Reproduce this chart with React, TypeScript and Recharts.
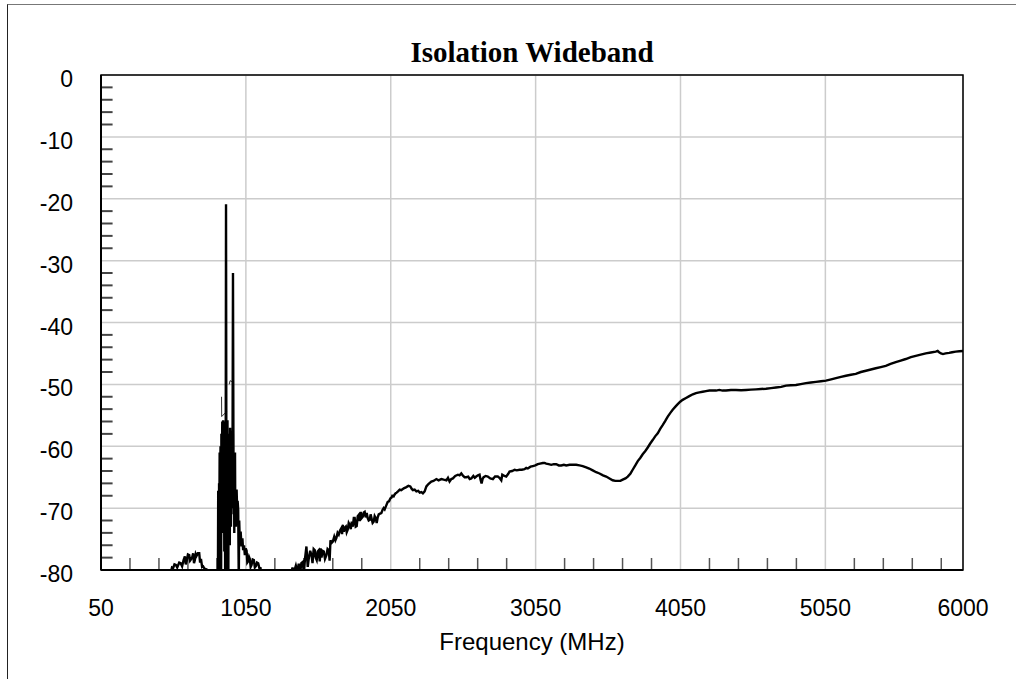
import { LineChart, Line, XAxis, YAxis, CartesianGrid, ReferenceLine, ReferenceArea } from 'recharts'

// trace: frequency (MHz) / isolation (dB); points below -80 are clipped by the axis
const freqMHz = [
  50, 200, 350, 480, 530, 540, 548, 557, 567, 576, 590, 600, 610, 620, 629, 635, 641, 650, 659, 665,
  671, 680, 686, 692, 698, 704, 710, 719, 728, 734, 740, 748, 755, 765, 779, 790, 810, 830, 850,
  857, 859, 861, 863, 865, 867, 869, 871, 873, 875, 877, 879, 881, 883, 885, 887, 889, 891, 893, 895,
  897, 899, 901, 903, 905, 907, 909, 911, 913, 915, 917, 919, 921, 923, 925, 927, 929, 931, 933, 935,
  937, 939, 941, 943, 945, 947, 949, 951, 953, 955, 958, 961, 964, 966, 968, 970, 972, 975, 977, 979,
  981, 983, 986, 990, 993, 997, 1001, 1004, 1008, 1014, 1020, 1026, 1031, 1037, 1043, 1049,
  1055, 1060, 1066, 1072, 1077, 1083, 1089, 1097, 1105, 1112, 1119, 1127, 1135, 1143, 1151, 1160,
  1200, 1260, 1320, 1360,
  1372, 1380, 1395, 1405, 1415, 1425, 1433, 1443, 1450, 1458, 1468, 1477, 1485, 1494, 1503, 1510,
  1518, 1526, 1532, 1539, 1546, 1553, 1560, 1566, 1572, 1580, 1588, 1596, 1606, 1614, 1622, 1628,
  1634, 1642, 1650, 1660, 1668, 1675, 1683, 1691, 1700, 1710, 1714, 1719, 1726, 1732, 1740, 1746,
  1753, 1760, 1767, 1774, 1781, 1788, 1795, 1801, 1808, 1815, 1822, 1829, 1836, 1843, 1850, 1857,
  1864, 1870, 1877, 1884, 1891, 1898, 1905, 1911, 1917, 1925, 1932, 1939, 1946, 1953, 1960, 1967,
  1976, 1985, 1993, 2001, 2008, 2015, 2022, 2029, 2038, 2048, 2055, 2061, 2070, 2077, 2084, 2091,
  2100, 2112, 2123, 2140, 2158, 2172, 2185, 2195, 2203, 2215, 2227, 2240, 2250, 2261, 2272, 2284,
  2296, 2310, 2330, 2345, 2365, 2380, 2399, 2415, 2434, 2445, 2456, 2468, 2479, 2495, 2514, 2525,
  2537, 2550, 2560, 2572, 2585, 2595, 2606, 2620, 2630, 2640, 2652, 2663, 2670, 2677, 2684, 2691,
  2705, 2720, 2737, 2755, 2770, 2789, 2800, 2813, 2820, 2835, 2847, 2860, 2870, 2888, 2905, 2920,
  2939, 2955, 2973, 2985, 2996, 3015, 3031, 3048, 3065, 3080, 3100, 3112, 3123, 3140, 3158, 3175,
  3192, 3210, 3227, 3245, 3261, 3285, 3307, 3330, 3353, 3375, 3399, 3420, 3444, 3468, 3491, 3515,
  3537, 3560, 3582, 3600, 3617, 3635, 3651, 3670, 3686, 3705, 3720, 3738, 3755, 3772, 3789, 3806,
  3824, 3840, 3858, 3875, 3893, 3910, 3927, 3945, 3962, 3980, 3996, 4015, 4031, 4048, 4065, 4088,
  4111, 4135, 4157, 4180, 4203, 4226, 4249, 4272, 4295, 4318, 4340, 4364, 4398, 4433, 4468, 4502,
  4536, 4571, 4605, 4640, 4675, 4709, 4745, 4778, 4812, 4847, 4880, 4916, 4950, 4985, 5020, 5054,
  5090, 5123, 5158, 5192, 5226, 5260, 5295, 5330, 5364, 5398, 5432, 5467, 5500, 5536, 5570, 5605,
  5640, 5674, 5708, 5743, 5778, 5812, 5825, 5835, 5848, 5862, 5880, 5904, 5925, 5950, 5975, 6000,
]

const isolationDb = [
  -86, -85, -84, -82, -80.6, -79.6, -79.7, -79.1, -79.2, -79.6, -78.8, -78.9, -79.4, -78.4, -77.8, -79.1, -78.6, -77.5, -77.6, -78.5,
  -78.3, -77.9, -77.3, -78.9, -78.4, -77.4, -77.7, -77.3, -77.3, -78.8, -78.2, -79.5, -79.4, -79.8, -79.9, -81, -83, -82.5, -81.5,
  -82, -67.2, -76, -82, -66, -72, -61, -75, -64, -60, -70, -82, -58, -68, -62, -56, -74, -60.5, -55.8, -70,
  -59, -57, -77, -61, -56, -82, -63, -58, -20.9, -56.5, -82, -64, -60, -55.8, -72, -63, -82, -58, -71, -62,
  -60.5, -76, -57, -68, -61, -73, -66, -59, -70, -57.5, -60, -32, -58, -71, -62, -74, -66, -61, -72, -67,
  -73, -68.5, -67, -70.5, -68.8, -70.3, -82, -72, -75.2, -73.8, -76.2, -74.9, -76.8, -76, -77.6, -76.5,
  -76.9, -78.8, -78.6, -77.9, -78.2, -79.5, -79.2, -78.3, -78.4, -79.6, -79.4, -78.8, -78.9, -79.7, -79.7, -81,
  -83, -84, -82.5, -80.8,
  -79.6, -80.5, -79.3, -80.3, -79, -80.4, -78.9, -78.7, -80.6, -78.2, -76.2, -79.5, -78, -76.9, -77.6, -78.9,
  -76.6, -76.8, -78, -78.4, -77, -76.8, -78.6, -76.5, -78, -76.9, -77, -78.2, -77.6, -76.6, -76.8, -78.5,
  -75.2, -75.6, -75.4, -74.6, -75.2, -74.8, -74, -74.3, -73.6, -73.2, -74.2, -72.7, -73.8, -73.2, -73, -73.9,
  -73.5, -72.4, -72.7, -73.4, -72.2, -73, -71.6, -71.6, -73, -72.9, -71.3, -71.1, -72.1, -70.6, -71.6, -71.4,
  -70.7, -70.6, -71.5, -70.8, -71.6, -72, -71.9, -71, -71.6, -72.4, -72.2, -71.3, -71.6, -72.4, -71.5, -71,
  -70.9, -70.8, -70.3, -70, -70.2, -69.8, -69.4, -69, -68.9, -68.4, -68.3, -68, -68.1, -67.8, -67.6, -67.5,
  -67.3, -67, -67.1, -66.8, -66.6, -66.4, -66.5, -66.9, -67.1, -67, -67.3, -67.2, -67.5, -67.4, -67.6, -67.3,
  -66.5, -66.1, -65.7, -65.6, -65.3, -65.5, -65.3, -65.4, -65.5, -65.1, -65.7, -65.3, -65.2, -64.8, -64.6, -64.7,
  -64.4, -64.8, -65, -65, -64.9, -65.3, -65.2, -64.8, -65.1, -64.9, -64.7, -64.6, -65.4, -66, -65.3, -65,
  -64.8, -64.9, -65.2, -65.3, -64.9, -64.9, -65.1, -65.5, -64.6, -64.8, -64.9, -64.5, -64.1, -64, -63.8, -63.9,
  -63.8, -63.8, -63.7, -63.5, -63.6, -63.3, -63.2, -63.1, -62.9, -62.8, -62.7, -62.7, -62.8, -62.9, -63, -62.9,
  -62.9, -63.1, -63.1, -63, -63.1, -63, -63, -63, -63.1, -63.2, -63.4, -63.6, -63.9, -64.2, -64.4, -64.7,
  -64.9, -65.2, -65.5, -65.6, -65.6, -65.6, -65.4, -65.2, -64.9, -64.4, -63.8, -63.1, -62.4, -61.9, -61.3, -60.8,
  -60.2, -59.6, -59, -58.4, -57.9, -57.2, -56.6, -55.9, -55.2, -54.6, -54.1, -53.6, -53.2, -52.8, -52.5, -52.2,
  -51.9, -51.6, -51.4, -51.3, -51.2, -51.1, -51, -51, -51, -50.9, -51, -51, -50.9, -50.9, -50.95, -50.9,
  -50.85, -50.8, -50.75, -50.7, -50.6, -50.5, -50.4, -50.2, -50.15, -50.1, -49.95, -49.8, -49.7, -49.6, -49.5, -49.4,
  -49.2, -49, -48.8, -48.6, -48.45, -48.3, -48, -47.8, -47.6, -47.4, -47.2, -47, -46.7, -46.4, -46.15, -45.9,
  -45.6, -45.4, -45.2, -45, -44.85, -44.7, -44.6, -44.8, -45, -45.1, -45, -44.9, -44.8, -44.7, -44.65, -44.6,
]

// two faint stray segments inside the spike
const strayAFreq = [882, 883, 917]
const strayADb = [-52, -55.2, -54.4]
const strayBFreq = [935, 941, 958]
const strayBDb = [-50, -49.4, -49.6]

const xTicks = [50, 1050, 2050, 3050, 4050, 5050, 6000]
const yTicks = [0, -10, -20, -30, -40, -50, -60, -70, -80]
const xMinorTicks = [250, 450, 650, 850, 1250, 1450, 1650, 1850, 2250, 2450, 2650, 2850, 3250, 3450, 3650, 3850, 4250, 4450, 4650, 4850, 5250, 5450, 5650, 5850]
const yMinorTicks = [-2, -4, -6, -8, -12, -14, -16, -18, -22, -24, -26, -28, -32, -34, -36, -38, -42, -44, -46, -48, -52, -54, -56, -58, -62, -64, -66, -68, -72, -74, -76, -78]

const traceData = freqMHz.map((f, i) => ({ f, db: isolationDb[i] }))
const strayA = strayAFreq.map((f, i) => ({ f, db: strayADb[i] }))
const strayB = strayBFreq.map((f, i) => ({ f, db: strayBDb[i] }))

const W = 1016
const H = 679
const font = '"Liberation Sans", Arial, sans-serif'

function YTick(props: any) {
  const { x, y, payload } = props
  return (
    <text x={x} y={y + 4} textAnchor="end" dominantBaseline="central" fill="#000" fontSize={23} fontFamily={font}>
      {payload.value}
    </text>
  )
}

export default function App() {
  return (
    <div style={{ position: 'absolute', left: 0, top: 0, width: W, height: H, overflow: 'hidden', background: '#fff' }}>
      <div
        style={{
          position: 'absolute', left: 7, top: 4, width: W - 7, height: H - 4,
          borderTop: '1.5px solid #777', borderLeft: '1.5px solid #222', boxSizing: 'border-box',
        }}
      />
      <div
        style={{
          position: 'absolute', left: 282, top: 36, width: 500, textAlign: 'center',
          fontFamily: '"Liberation Serif", "Times New Roman", serif', fontWeight: 'bold', fontSize: 29, lineHeight: '32px',
        }}
      >
        Isolation Wideband
      </div>
      <div
        style={{
          position: 'absolute', left: 282, top: 628, width: 500, textAlign: 'center',
          fontFamily: font, fontSize: 24, lineHeight: '28px', color: '#000',
        }}
      >
        Frequency (MHz)
      </div>
      <div style={{ position: 'absolute', left: 0, top: 0 }}>
        <LineChart width={W} height={H} margin={{ top: 75, right: 53, bottom: 0, left: 0 }}>
          <CartesianGrid stroke="#cccccc" strokeWidth={1.5} />
          <XAxis
            dataKey="f"
            type="number"
            domain={[50, 6000]}
            ticks={xTicks}
            interval={0}
            height={109}
            tickSize={0}
            tickMargin={30}
            axisLine={{ stroke: '#000', strokeWidth: 2 }}
            tick={{ fill: '#000', fontSize: 23, fontFamily: font }}
            allowDataOverflow
          />
          <YAxis
            type="number"
            domain={[-80, 0]}
            ticks={yTicks}
            interval={0}
            width={101}
            tickSize={0}
            tickMargin={28}
            axisLine={{ stroke: '#000', strokeWidth: 2 }}
            tick={<YTick />}
            allowDataOverflow
          />
          <ReferenceArea x1={50} x2={6000} y1={-80} y2={0} fill="none" stroke="#000" strokeWidth={1.5} />
          {xMinorTicks.map((t) => (
            <ReferenceLine key={'x' + t} segment={[{ x: t, y: -80 }, { x: t, y: -78.06 }]} stroke="#555" strokeWidth={1.5} />
          ))}
          {yMinorTicks.map((t) => (
            <ReferenceLine key={'y' + t} segment={[{ x: 50, y: t }, { x: 130, y: t }]} stroke="#444" strokeWidth={2} />
          ))}
          <Line data={strayA} dataKey="db" type="linear" stroke="#333" strokeWidth={1} dot={false} isAnimationActive={false} />
          <Line data={strayB} dataKey="db" type="linear" stroke="#333" strokeWidth={1} dot={false} isAnimationActive={false} />
          <Line data={traceData} dataKey="db" type="linear" stroke="#000" strokeWidth={2.4} dot={false} isAnimationActive={false} />
        </LineChart>
      </div>
    </div>
  )
}
